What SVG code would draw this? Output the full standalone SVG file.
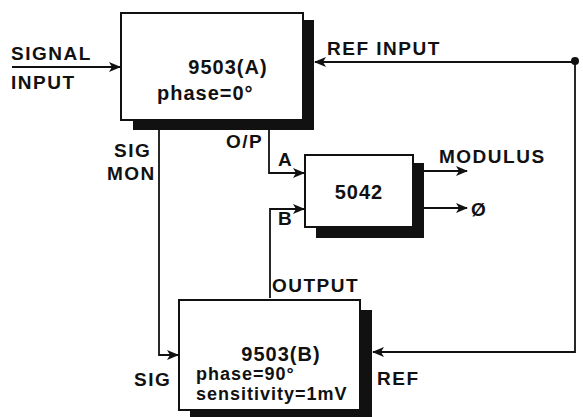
<svg xmlns="http://www.w3.org/2000/svg" width="583" height="417" viewBox="0 0 583 417">
<style>
text{font-family:"Liberation Sans",Arial,sans-serif;font-weight:bold;font-size:19px;fill:#111;letter-spacing:1.5px}
.t{font-size:20px;letter-spacing:1px}
.s{font-size:18px;letter-spacing:1px}
.box{fill:#fff;stroke:#111;stroke-width:2}
.sh{fill:#111}
.ln{fill:none;stroke:#111;stroke-width:1.8}
</style>
<defs>
<marker id="ah" viewBox="0 0 12 10" refX="11" refY="5" markerWidth="12" markerHeight="10" markerUnits="userSpaceOnUse" orient="auto">
<path d="M0,0 L12,5 L0,10 L3,5 Z" fill="#111"/>
</marker>
</defs>
<g id="connectors">
<path class="ln" d="M12,67 H120" marker-end="url(#ah)"/>
<path class="ln" d="M575,62 H315" marker-end="url(#ah)"/>
<circle cx="575" cy="61" r="4" fill="#111"/>
<path class="ln" d="M575,62 V352 H373" marker-end="url(#ah)"/>
<path class="ln" d="M159,130 V355 H178" marker-end="url(#ah)"/>
<path class="ln" d="M269,130 V173 H304" marker-end="url(#ah)"/>
<path class="ln" d="M270,298 V209 H304" marker-end="url(#ah)"/>
<path class="ln" d="M424,171 H467" marker-end="url(#ah)"/>
<path class="ln" d="M424,208 H467" marker-end="url(#ah)"/>
<text x="11" y="60">SIGNAL</text>
<text x="11" y="89">INPUT</text>
<text x="327" y="55">REF INPUT</text>
<text x="114" y="157">SIG</text>
<text x="107" y="180">MON</text>
<text x="226" y="148">O/P</text>
<text x="278" y="166">A</text>
<text x="278" y="225">B</text>
<text x="272" y="292">OUTPUT</text>
<text x="439" y="163">MODULUS</text>
<text x="471" y="216">Ø</text>
<text x="134" y="386">SIG</text>
<text x="377" y="385">REF</text>
</g>
<g id="node-a">
<rect class="sh" x="133" y="20" width="181" height="110"/>
<rect class="box" x="121" y="13" width="182" height="107"/>
<text class="t" x="228" y="74" text-anchor="middle">9503(A)</text>
<text class="t" x="157" y="100">phase=0°</text>
</g>
<g id="node-5042">
<rect class="sh" x="316" y="163" width="108" height="75"/>
<rect class="box" x="305" y="155" width="108" height="72"/>
<text class="t" x="359" y="199" text-anchor="middle">5042</text>
</g>
<g id="node-b">
<rect class="sh" x="190" y="310" width="182" height="107"/>
<rect class="box" x="179" y="300" width="181" height="110"/>
<text class="t" x="281" y="361" text-anchor="middle">9503(B)</text>
<text class="s" x="196" y="380">phase=90°</text>
<text class="s" x="196" y="400">sensitivity=1mV</text>
</g>
</svg>
